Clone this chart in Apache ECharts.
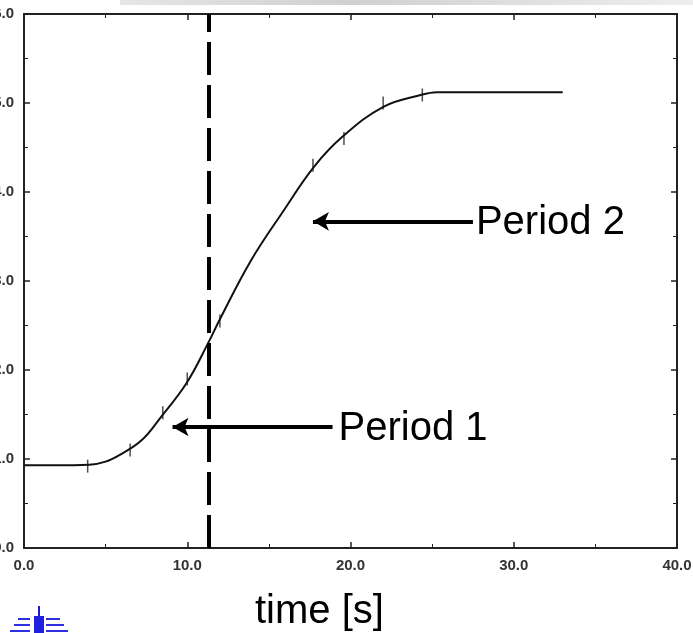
<!DOCTYPE html>
<html><head><meta charset="utf-8">
<script src="https://cdn.jsdelivr.net/npm/echarts@6/dist/echarts.min.js"></script>
<style>html,body{margin:0;padding:0;background:#fff}#c{width:693px;height:633px}</style>
</head><body><div id="c"></div>
<script>
// Data
const curveT = [0, 3, 4, 5, 5.9, 7.2, 8.34, 9.98, 11.3, 12.0, 13.87, 15.9, 17.75, 19.5, 22.04, 24.3, 25.3, 33];
const curveY = [0.93, 0.93, 0.935, 0.97, 1.05, 1.21, 1.46, 1.86, 2.31, 2.57, 3.22, 3.79, 4.28, 4.62, 4.96, 5.09, 5.12, 5.12];
const markT = [3.9, 6.5, 8.5, 10.0, 12.0, 17.7, 19.6, 22.0, 24.4];
const markY = [0.92, 1.10, 1.52, 1.90, 2.55, 4.30, 4.60, 5.00, 5.09];
const dividerT = 11.3;
const period1 = {label: 'Period 1', fromT: 18.9, toT: 9.1, y: 1.36};
const period2 = {label: 'Period 2', fromT: 27.5, toT: 17.7, y: 3.67};
const xTicks = [0, 10, 20, 30, 40];
const yTicks = [0, 1, 2, 3, 4, 5, 6];
const axisTitle = 'time [s]';

const chart = echarts.init(document.getElementById('c'));
const axisCol = '#222';
const common = () => ({
  axisLine: {show: true, onZero: false, lineStyle: {color: axisCol, width: 2}},
  axisTick: {show: true, inside: true, length: 6, lineStyle: {color: axisCol, width: 1.5}},
  minorTick: {show: true, splitNumber: 2, length: 4, lineStyle: {color: axisCol}},
  splitLine: {show: false}
});
const lbl = {fontSize: 15, fontWeight: 'bold', color: '#333', margin: 10, fontFamily: 'Liberation Sans',
  formatter: v => v.toFixed(1)};
const option = {
  animation: false,
  backgroundColor: '#fff',
  grid: {left: 24, right: 16, top: 14, bottom: 85, outerBoundsMode: 'none', containLabel: false},
  xAxis: [
    Object.assign({type: 'value', min: xTicks[0], max: xTicks[xTicks.length-1], interval: 10, position: 'bottom',
      axisLabel: lbl}, common()),
    Object.assign({type: 'value', min: xTicks[0], max: xTicks[xTicks.length-1], interval: 10, position: 'top',
      axisLabel: {show: false}}, common())
  ],
  yAxis: [
    Object.assign({type: 'value', min: yTicks[0], max: yTicks[yTicks.length-1], interval: 1, position: 'left',
      axisLabel: lbl}, common()),
    Object.assign({type: 'value', min: yTicks[0], max: yTicks[yTicks.length-1], interval: 1, position: 'right',
      axisLabel: {show: false}}, common())
  ],
  series: [
    {
      type: 'line', smooth: 0.4, symbol: 'none',
      data: curveT.map((t, i) => [t, curveY[i]]),
      lineStyle: {color: '#111', width: 2},
      markLine: {
        silent: true, symbol: ['none', 'none'],
        lineStyle: {color: '#000', width: 4, type: [33, 10]},
        label: {show: false},
        data: [{xAxis: dividerT}]
      }
    },
    {
      type: 'scatter', symbol: 'rect', symbolSize: [1.5, 13],
      data: markT.map((t, i) => [t, markY[i]]),
      itemStyle: {color: '#222'}
    },
    {
      type: 'line', data: [], symbol: 'none',
      markLine: {
        silent: true, symbol: ['none', 'arrow'], symbolSize: [14, 16],
        lineStyle: {color: '#000', width: 4, type: 'solid'},
        label: {show: false},
        data: [
          [{coord: [period1.fromT, period1.y]}, {coord: [period1.toT, period1.y]}],
          [{coord: [period2.fromT, period2.y]}, {coord: [period2.toT, period2.y]}]
        ]
      }
    },
    {type: 'line', data: [], xAxisIndex: 1, yAxisIndex: 1}
  ]
};
chart.setOption(option);

const p1 = chart.convertToPixel({xAxisIndex: 0, yAxisIndex: 0}, [period1.fromT, period1.y]);
const p2 = chart.convertToPixel({xAxisIndex: 0, yAxisIndex: 0}, [period2.fromT, period2.y]);
const font = 'Liberation Sans, Arial, sans-serif';
chart.setOption({
  graphic: [
    {type: 'rect', left: 120, top: 0, shape: {width: 573, height: 5}, z: -1,
      style: {fill: new echarts.graphic.LinearGradient(0, 0, 1, 0, [
        {offset: 0, color: '#e6e6e6'}, {offset: 0.4, color: '#d0d0d0'}, {offset: 1, color: '#eeeeee'}])}},
    {type: 'text', x: p1[0] + 6, y: p1[1] + 2, style: {text: period1.label, font: '40px ' + font, fill: '#000', verticalAlign: 'middle'}},
    {type: 'text', x: p2[0] + 3, y: p2[1] + 2, style: {text: period2.label, font: '40px ' + font, fill: '#000', verticalAlign: 'middle'}},
    {type: 'text', x: 255, y: 612, style: {text: axisTitle, font: '40px ' + font, fill: '#000', verticalAlign: 'middle'}},
    {type: 'group', left: 10, top: 606, children: [
      {type: 'rect', shape: {x: 28, y: 0, width: 2, height: 27}, style: {fill: '#1a1ad0'}},
      {type: 'rect', shape: {x: 24, y: 10, width: 10, height: 17}, style: {fill: '#2020e0'}},
      {type: 'rect', shape: {x: 8, y: 12, width: 12, height: 2}, style: {fill: '#3030e0'}},
      {type: 'rect', shape: {x: 4, y: 18, width: 16, height: 2}, style: {fill: '#3030e0'}},
      {type: 'rect', shape: {x: 0, y: 24, width: 20, height: 2}, style: {fill: '#3030e0'}},
      {type: 'rect', shape: {x: 36, y: 12, width: 14, height: 2}, style: {fill: '#3030e0'}},
      {type: 'rect', shape: {x: 36, y: 18, width: 18, height: 2}, style: {fill: '#3030e0'}},
      {type: 'rect', shape: {x: 36, y: 24, width: 22, height: 2}, style: {fill: '#3030e0'}}
    ]}
  ]
});
</script></body></html>
